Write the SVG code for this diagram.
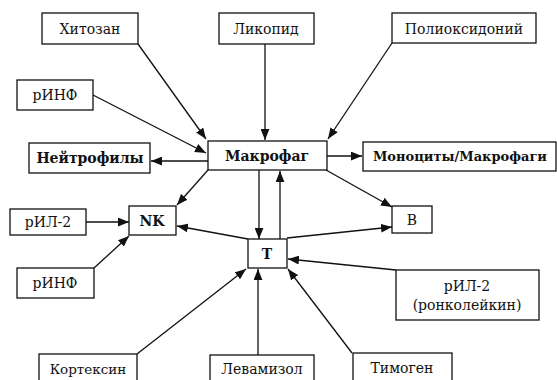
<svg xmlns="http://www.w3.org/2000/svg" width="557" height="380" viewBox="0 0 557 380">
<style>
rect{fill:#fff;stroke:#111;stroke-width:1.3}
text{font-family:"DejaVu Serif",serif;font-size:14px;fill:#111;text-anchor:middle}
.b{font-weight:bold}
.c line{stroke:#111;stroke-width:1.3}
</style>
<defs>
<marker id="a" viewBox="0 0 10 8" refX="10" refY="4" markerWidth="11" markerHeight="9" markerUnits="userSpaceOnUse" orient="auto"><path d="M0,0L10,4L0,8z" fill="#111"/></marker>
</defs>
<rect width="557" height="380" style="fill:#fff;stroke:none"/>
<g class="c">
<line x1="138" y1="44" x2="206" y2="139" marker-end="url(#a)"/>
<line x1="265" y1="44" x2="265" y2="140" marker-end="url(#a)"/>
<line x1="392" y1="43" x2="328" y2="139" marker-end="url(#a)"/>
<line x1="93" y1="95" x2="206" y2="153" marker-end="url(#a)"/>
<line x1="208" y1="161" x2="151" y2="161" marker-end="url(#a)"/>
<line x1="327" y1="156" x2="362" y2="156" marker-end="url(#a)"/>
<line x1="208" y1="170" x2="177" y2="205" marker-end="url(#a)"/>
<line x1="326" y1="170" x2="392" y2="207" marker-end="url(#a)"/>
<line x1="259" y1="170" x2="259" y2="239" marker-end="url(#a)"/>
<line x1="280" y1="239" x2="280" y2="171" marker-end="url(#a)"/>
<line x1="248" y1="239" x2="177" y2="226" marker-end="url(#a)"/>
<line x1="287" y1="238" x2="392" y2="227" marker-end="url(#a)"/>
<line x1="86" y1="222" x2="129" y2="222" marker-end="url(#a)"/>
<line x1="94" y1="268" x2="129" y2="236" marker-end="url(#a)"/>
<line x1="137" y1="354" x2="246" y2="269" marker-end="url(#a)"/>
<line x1="258" y1="355" x2="258" y2="269" marker-end="url(#a)"/>
<line x1="352" y1="353" x2="288" y2="269" marker-end="url(#a)"/>
<line x1="396" y1="270" x2="288" y2="259" marker-end="url(#a)"/>
</g>
<g id="hitozan"><rect x="42" y="13" width="96" height="31"/><text x="90" y="34">Хитозан</text></g>
<g id="likopid"><rect x="219" y="13" width="95" height="31"/><text x="266" y="34">Ликопид</text></g>
<g id="polioksidoniy"><rect x="392" y="13" width="144" height="30"/><text x="464" y="34">Полиоксидоний</text></g>
<g id="rinf1"><rect x="17" y="80" width="76" height="30"/><text x="55" y="100">рИНФ</text></g>
<g id="makrofag"><rect x="208" y="141" width="119" height="29"/><text class="b" x="267" y="161">Макрофаг</text></g>
<g id="neytrofily"><rect x="29" y="143" width="121" height="30"/><text class="b" x="90" y="163">Нейтрофилы</text></g>
<g id="monocyty"><rect x="363" y="142" width="193" height="29"/><text class="b" x="460" y="161" style="font-size:13px">Моноциты/Макрофаги</text></g>
<g id="nk"><rect x="129" y="206" width="47" height="29"/><text class="b" x="152" y="226">NK</text></g>
<g id="ril2a"><rect x="10" y="209" width="76" height="26"/><text x="48" y="227">рИЛ-2</text></g>
<g id="b"><rect x="392" y="206" width="40" height="27"/><text x="412" y="225">B</text></g>
<g id="t"><rect x="248" y="239" width="39" height="29"/><text class="b" x="267" y="259">T</text></g>
<g id="rinf2"><rect x="17" y="268" width="77" height="30"/><text x="55" y="288">рИНФ</text></g>
<g id="ril2b"><rect x="396" y="270" width="143" height="50"/><text x="467" y="291">рИЛ-2</text><text x="467" y="310">(ронколейкин)</text></g>
<g id="korteksin"><rect x="39" y="354" width="98" height="30"/><text x="88" y="374" style="font-size:13.5px">Кортексин</text></g>
<g id="levamizol"><rect x="210" y="355" width="104" height="30"/><text x="262" y="374">Левамизол</text></g>
<g id="timogen"><rect x="353" y="353" width="99" height="31"/><text x="402" y="373">Тимоген</text></g>
</svg>
